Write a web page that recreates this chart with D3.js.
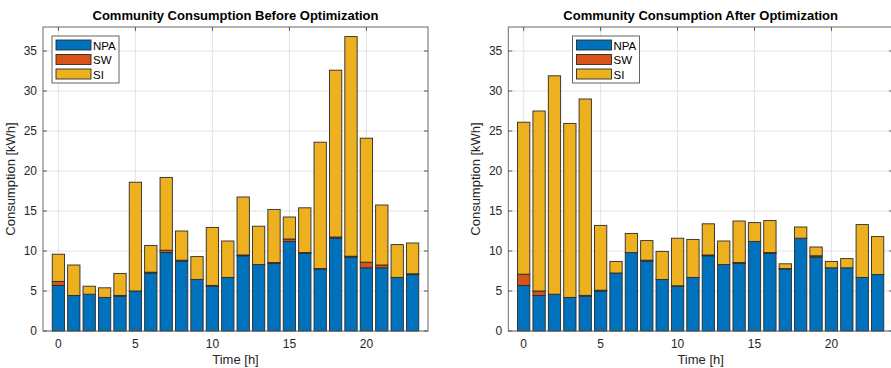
<!DOCTYPE html>
<html>
<head>
<meta charset="utf-8">
<script src="https://cdn.jsdelivr.net/npm/d3@7"></script>
<style>
    body { margin: 0; background: #fff; }
    svg { display: block; font-family: "Liberation Sans", Arial, sans-serif; }
</style>
</head>
<body>
<svg id="chart" width="891" height="368"></svg>
<script>
// hours 0..23
const hours = d3.range(0, 24);
const keys = ['NPA', 'SW', 'SI'];
const colors = ['#0072BD', '#D95319', '#EDB120'];

// non-shiftable load, same in both plots
const npa = [5.7, 4.45, 4.6, 4.2, 4.35, 5.0, 7.25, 9.8, 8.75, 6.45, 5.6, 6.7,
             9.4, 8.3, 8.45, 11.2, 9.7, 7.75, 11.6, 9.25, 7.9, 7.9, 6.7, 7.05];

// before optimization
const swBefore = [0.5, 0, 0, 0, 0.1, 0, 0.1, 0.3, 0.1, 0, 0.1, 0,
                  0.1, 0, 0.1, 0.3, 0.1, 0.05, 0.15, 0.1, 0.7, 0.35, 0, 0.1];
const siBefore = [3.4, 3.8, 1.0, 1.2, 2.75, 13.6, 3.35, 9.1, 3.65, 2.85, 7.25, 4.55,
                  7.25, 4.8, 6.65, 2.75, 5.6, 15.8, 20.85, 27.45, 15.5, 7.5, 4.1, 3.85];

// after optimization
const swAfter = [1.4, 0.55, 0, 0, 0.1, 0.1, 0, 0, 0.1, 0, 0.05, 0,
                 0.1, 0, 0.1, 0, 0.1, 0.05, 0, 0.15, 0, 0, 0, 0];
const siAfter = [19.0, 22.5, 27.3, 21.75, 24.55, 8.1, 1.45, 2.4, 2.45, 3.5, 5.95, 4.75,
                 3.9, 2.95, 5.2, 2.35, 4.0, 0.6, 1.4, 1.1, 0.8, 1.15, 6.6, 4.75];

const xTicks = [0, 5, 10, 15, 20];
const yTicks = [0, 5, 10, 15, 20, 25, 30, 35];

const svg = d3.select('#chart');

function drawPanel(opts) {
    const x = d3.scaleLinear().domain([-1, 24]).range([opts.left, opts.right]);
    const y = d3.scaleLinear().domain([0, 38]).range([331, 27]);
    const g = svg.append('g');

    // grid
    g.selectAll('.vg').data(xTicks).join('line')
        .attr('x1', d => x(d)).attr('x2', d => x(d))
        .attr('y1', y(38)).attr('y2', y(0))
        .attr('stroke', '#e3e3e3');
    g.selectAll('.hg').data(yTicks).join('line')
        .attr('x1', x(-1)).attr('x2', x(24))
        .attr('y1', d => y(d)).attr('y2', d => y(d))
        .attr('stroke', '#e3e3e3');

    // stacked bars
    const rows = hours.map((h, i) => ({h: h, NPA: npa[i], SW: opts.sw[i], SI: opts.si[i]}));
    const series = d3.stack().keys(keys)(rows);
    const bw = x(0.4) - x(0);
    series.forEach((s, k) => {
        g.selectAll('.b' + k).data(s).join('rect')
            .attr('x', d => x(d.data.h) - bw)
            .attr('width', bw * 2)
            .attr('y', d => y(d[1]))
            .attr('height', d => y(d[0]) - y(d[1]))
            .attr('fill', colors[k])
            .attr('stroke', '#2b2b2b')
            .attr('stroke-width', 0.9);
    });

    // axes box with inward ticks
    const axCol = '#5a5a5a';
    g.append('rect')
        .attr('x', x(-1)).attr('y', y(38))
        .attr('width', x(24) - x(-1)).attr('height', y(0) - y(38))
        .attr('fill', 'none').attr('stroke', axCol).attr('stroke-width', 0.9);
    xTicks.forEach(t => {
        g.append('line').attr('x1', x(t)).attr('x2', x(t)).attr('y1', y(0)).attr('y2', y(0) - 4).attr('stroke', axCol);
        g.append('line').attr('x1', x(t)).attr('x2', x(t)).attr('y1', y(38)).attr('y2', y(38) + 4).attr('stroke', axCol);
    });
    yTicks.forEach(t => {
        g.append('line').attr('x1', x(-1)).attr('x2', x(-1) + 4).attr('y1', y(t)).attr('y2', y(t)).attr('stroke', axCol);
        g.append('line').attr('x1', x(24)).attr('x2', x(24) - 4).attr('y1', y(t)).attr('y2', y(t)).attr('stroke', axCol);
    });

    // tick labels
    g.selectAll('.xl').data(xTicks).join('text')
        .attr('x', d => x(d)).attr('y', 348)
        .attr('text-anchor', 'middle').attr('font-size', 12).attr('fill', '#262626')
        .text(d => d);
    g.selectAll('.yl').data(yTicks).join('text')
        .attr('x', x(-1) - 6).attr('y', d => y(d) + 4)
        .attr('text-anchor', 'end').attr('font-size', 12).attr('fill', '#262626')
        .text(d => d);

    // labels
    const cx = (opts.left + opts.right) / 2;
    g.append('text').attr('x', cx).attr('y', 20)
        .attr('text-anchor', 'middle').attr('font-size', 13).attr('font-weight', 'bold')
        .attr('fill', '#000').text(opts.title);
    g.append('text').attr('x', cx).attr('y', 364)
        .attr('text-anchor', 'middle').attr('font-size', 13).attr('fill', '#262626')
        .text('Time [h]');
    g.append('text')
        .attr('transform', 'translate(' + (opts.left - 28) + ',179) rotate(-90)')
        .attr('text-anchor', 'middle').attr('font-size', 13).attr('fill', '#262626')
        .text('Consumption [kWh]');

    // legend
    const lg = g.append('g').attr('transform', 'translate(' + opts.legX + ',36)');
    lg.append('rect').attr('width', 67).attr('height', 47)
        .attr('fill', '#fff').attr('stroke', '#555').attr('stroke-width', 0.9);
    keys.forEach((k, i) => {
        lg.append('rect').attr('x', 4).attr('y', 4 + i * 14.5).attr('width', 35).attr('height', 10)
            .attr('fill', colors[i]).attr('stroke', '#2b2b2b').attr('stroke-width', 0.9);
        lg.append('text').attr('x', 41).attr('y', 13.5 + i * 14.5)
            .attr('font-size', 11.5).attr('fill', '#000').text(k);
    });
}

drawPanel({left: 43, right: 428, legX: 52, title: 'Community Consumption Before Optimization',
           sw: swBefore, si: siBefore});
drawPanel({left: 508.3, right: 893, legX: 572.5, title: 'Community Consumption After Optimization',
           sw: swAfter, si: siAfter});
</script>
</body>
</html>
